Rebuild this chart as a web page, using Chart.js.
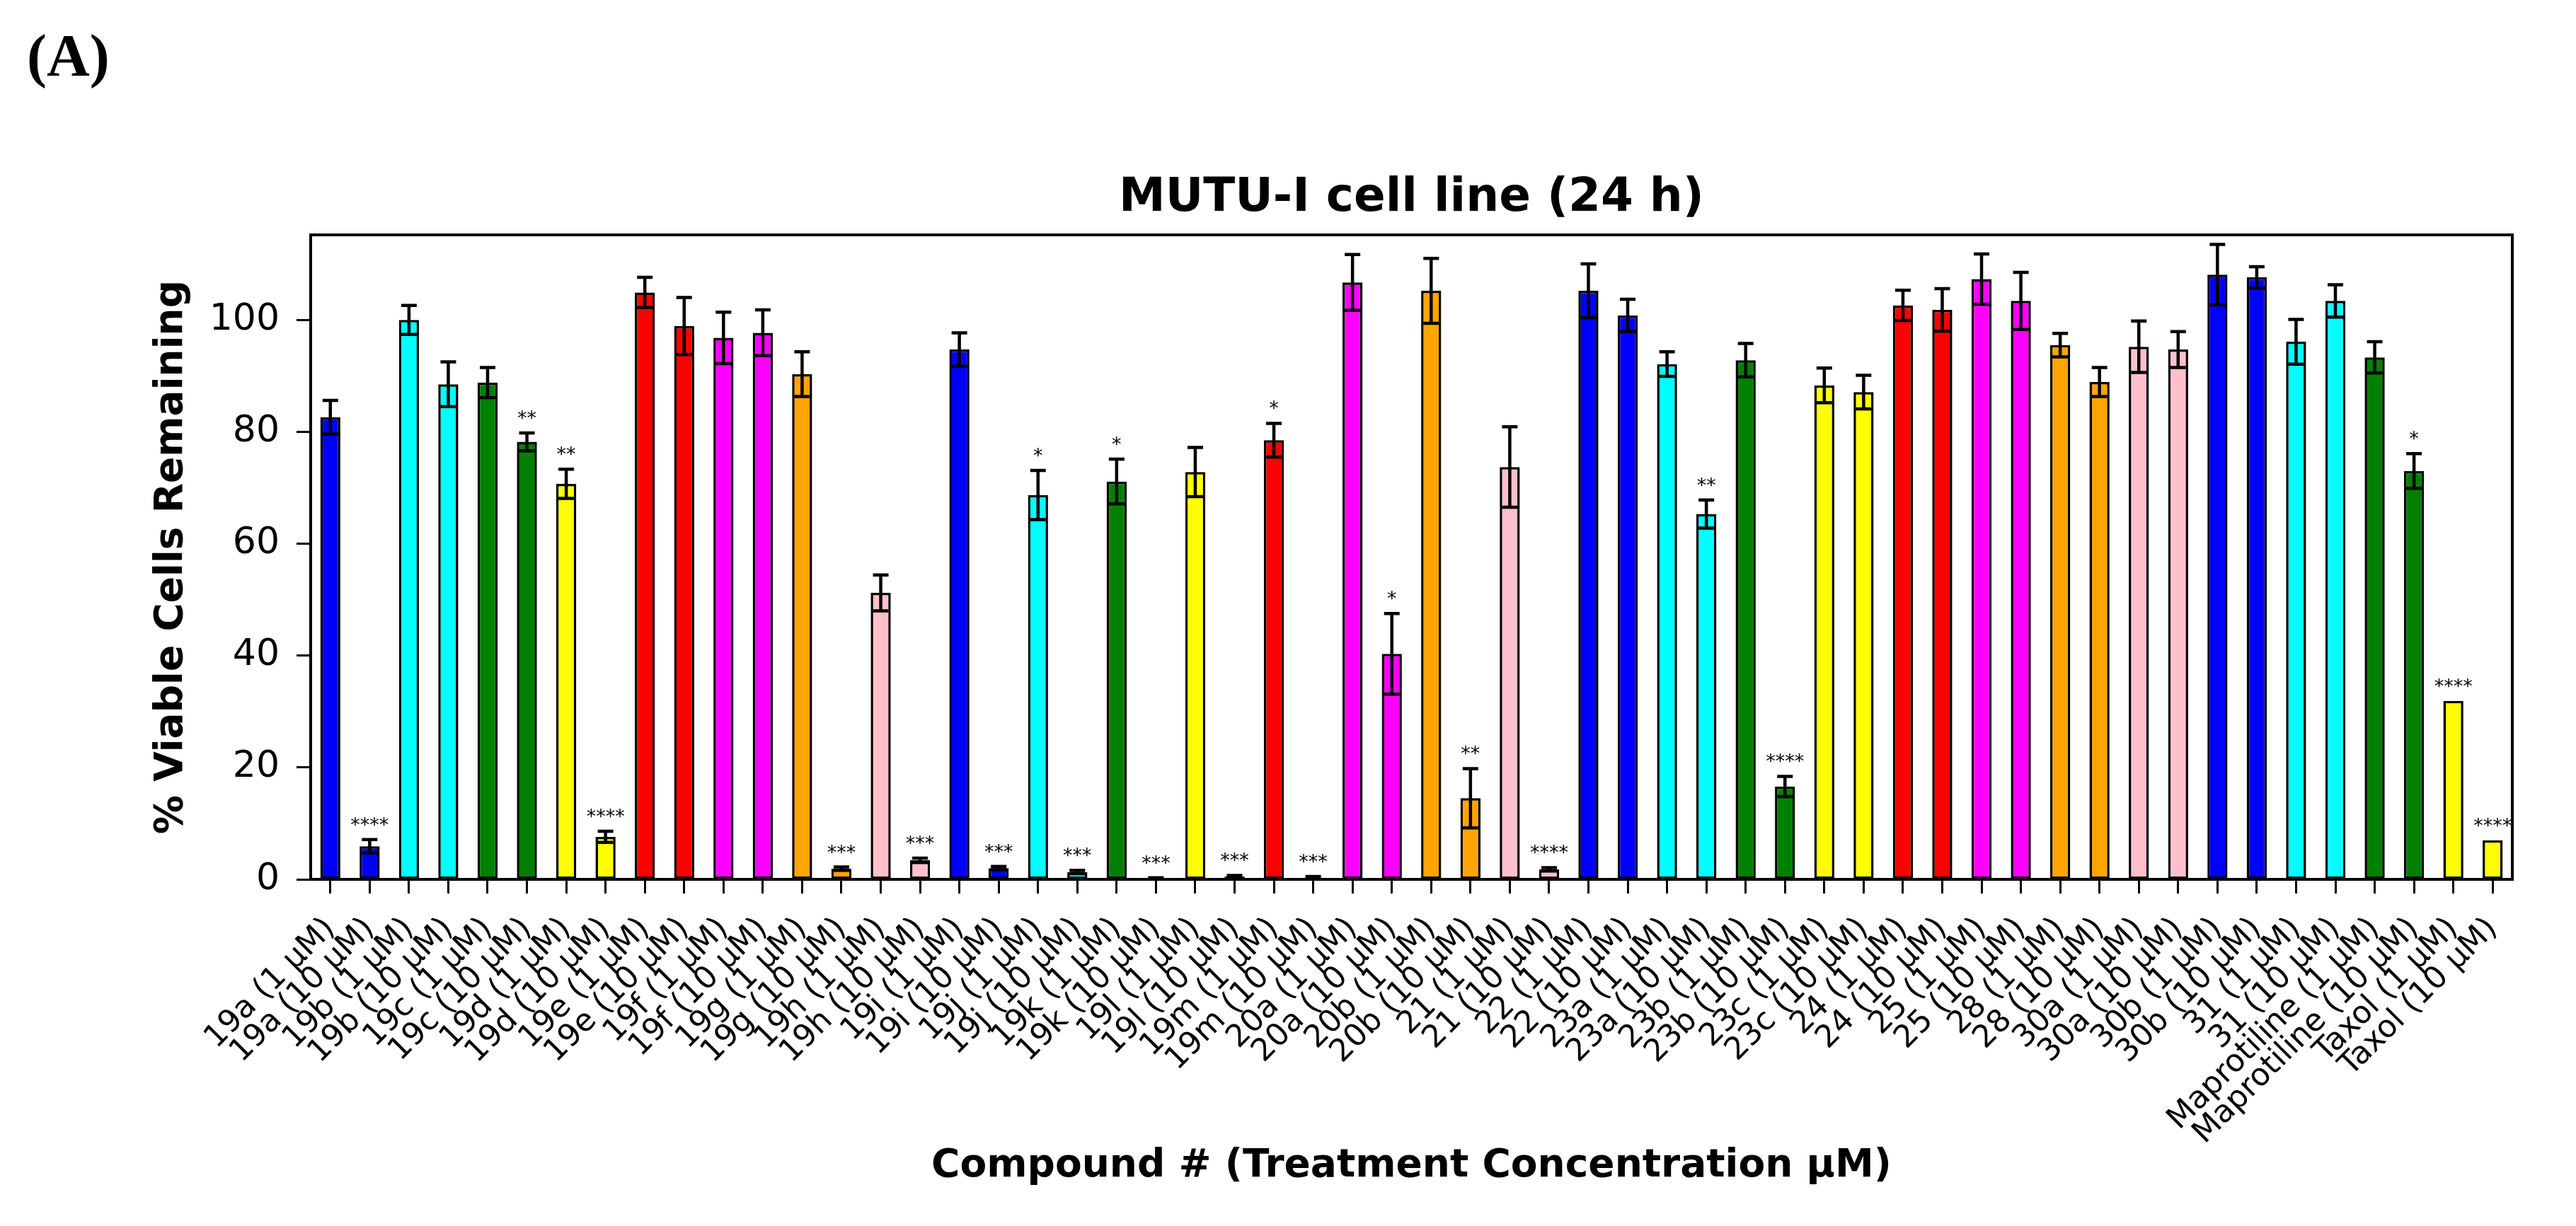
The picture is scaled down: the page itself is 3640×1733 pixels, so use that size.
<!DOCTYPE html>
<html>
<head>
<meta charset="utf-8">
<title>MUTU-I cell line (24 h)</title>
<script src="https://cdn.jsdelivr.net/npm/chart.js@4.4.0/dist/chart.umd.min.js"></script>
<style>
  html, body { margin: 0; padding: 0; background: #fff; overflow: hidden; }
  canvas { display: block; }
</style>
</head>
<body>
<canvas id="viabilityChart" width="3640" height="1733"></canvas>
<script>
// compound / concentration labels, one per bar
const compoundLabels = [
  '19a (1 μM)', '19a (10 μM)', '19b (1 μM)', '19b (10 μM)',
  '19c (1 μM)', '19c (10 μM)', '19d (1 μM)', '19d (10 μM)',
  '19e (1 μM)', '19e (10 μM)', '19f (1 μM)', '19f (10 μM)',
  '19g (1 μM)', '19g (10 μM)', '19h (1 μM)', '19h (10 μM)',
  '19i (1 μM)', '19i (10 μM)', '19j (1 μM)', '19j (10 μM)',
  '19k (1 μM)', '19k (10 μM)', '19l (1 μM)', '19l (10 μM)',
  '19m (1 μM)', '19m (10 μM)', '20a (1 μM)', '20a (10 μM)',
  '20b (1 μM)', '20b (10 μM)', '21 (1 μM)', '21 (10 μM)',
  '22 (1 μM)', '22 (10 μM)', '23a (1 μM)', '23a (10 μM)',
  '23b (1 μM)', '23b (10 μM)', '23c (1 μM)', '23c (10 μM)',
  '24 (1 μM)', '24 (10 μM)', '25 (1 μM)', '25 (10 μM)',
  '28 (1 μM)', '28 (10 μM)', '30a (1 μM)', '30a (10 μM)',
  '30b (1 μM)', '30b (10 μM)', '31 (1 μM)', '31 (10 μM)',
  'Maprotiline (1 μM)', 'Maprotiline (10 μM)', 'Taxol (1 μM)', 'Taxol (10 μM)'
];

// % viable cells remaining (mean)
const viability = [
  82.6, 5.9, 100.0, 88.5, 88.8, 78.2, 70.7, 7.6,
  104.9, 98.9, 96.8, 97.7, 90.3, 1.9, 51.2, 3.4,
  94.7, 2.0, 68.7, 1.3, 71.1, 0.2, 72.8, 0.5,
  78.5, 0.3, 106.7, 40.3, 105.2, 14.5, 73.7, 1.8,
  105.2, 100.8, 92.1, 65.3, 92.8, 16.6, 88.3, 87.1,
  102.6, 101.8, 107.3, 103.4, 95.5, 88.9, 95.2, 94.7,
  108.1, 107.6, 96.1, 103.4, 93.3, 73.0, 31.9, 7.0
];

// error (+/-)
const viabilityErr = [
  3.0, 1.2, 2.6, 4.0, 2.7, 1.6, 2.6, 1.0,
  2.7, 5.1, 4.6, 4.1, 4.0, 0.3, 3.2, 0.4,
  3.0, 0.3, 4.4, 0.3, 4.0, 0.1, 4.4, 0.2,
  3.0, 0.2, 5.0, 7.2, 5.8, 5.3, 7.2, 0.3,
  4.8, 2.9, 2.2, 2.5, 3.0, 1.8, 3.1, 3.0,
  2.7, 3.8, 4.5, 5.1, 2.1, 2.6, 4.6, 3.2,
  5.4, 1.9, 4.0, 2.9, 2.8, 3.1, 0, 0
];

// significance marks
const significance = [
  '', '****', '', '', '', '**', '**', '****',
  '', '', '', '', '', '***', '', '***',
  '', '***', '*', '***', '*', '***', '', '***',
  '*', '***', '', '*', '', '**', '', '****',
  '', '', '', '**', '', '****', '', '',
  '', '', '', '', '', '', '', '',
  '', '', '', '', '', '*', '****', '****'
];

const yTicks = [0, 20, 40, 60, 80, 100];

// one colour per compound (each compound has a 1 and a 10 uM bar)
const palette = ['#0000ff', '#00ffff', '#008000', '#ffff00', '#ff0000', '#ff00ff', '#ffa500', '#ffc0cb'];

const FONT = '"DejaVu Sans", sans-serif';

// error bars + asterisks
const errorBarPlugin = {
  id: 'errorBars',
  afterDatasetsDraw(chart) {
    const { ctx } = chart;
    const yScale = chart.scales.y;
    const meta = chart.getDatasetMeta(0);
    ctx.save();
    ctx.strokeStyle = '#000';
    ctx.lineWidth = 4.5;
    meta.data.forEach((bar, i) => {
      const err = viabilityErr[i];
      if (!err) return;
      const x = bar.x;
      const top = yScale.getPixelForValue(viability[i] + err);
      const bot = yScale.getPixelForValue(viability[i] - err);
      ctx.beginPath();
      ctx.moveTo(x, top); ctx.lineTo(x, bot);
      ctx.moveTo(x - 11, top); ctx.lineTo(x + 11, top);
      ctx.moveTo(x - 11, bot); ctx.lineTo(x + 11, bot);
      ctx.stroke();
    });

    ctx.fillStyle = '#000';
    ctx.font = '27px ' + FONT;
    ctx.textAlign = 'center';
    ctx.textBaseline = 'alphabetic';
    meta.data.forEach((bar, i) => {
      if (!significance[i]) return;
      const top = yScale.getPixelForValue(viability[i] + viabilityErr[i]);
      ctx.fillText(significance[i], bar.x, top - 12);
    });
    ctx.restore();
  }
};

// box around the plot area, title over the plot, panel letter
const framePlugin = {
  id: 'frame',
  afterDraw(chart) {
    const { ctx, chartArea: a } = chart;
    ctx.save();
    ctx.strokeStyle = '#000';
    ctx.lineWidth = 4;
    ctx.strokeRect(a.left, a.top, a.right - a.left, a.bottom - a.top);

    ctx.fillStyle = '#000';
    ctx.textBaseline = 'alphabetic';
    ctx.textAlign = 'center';
    ctx.font = 'bold 66px ' + FONT;
    ctx.fillText('MUTU-I cell line (24 h)', (a.left + a.right) / 2, a.top - 34);

    ctx.textAlign = 'left';
    ctx.font = 'bold 84px "Liberation Serif", serif';
    ctx.fillText('(A)', 38, 107);
    ctx.restore();
  }
};

const ctx = document.getElementById('viabilityChart').getContext('2d');
new Chart(ctx, {
  type: 'bar',
  data: {
    labels: compoundLabels,
    datasets: [{
      label: '% Viable Cells Remaining',
      data: viability,
      backgroundColor: viability.map((_, i) => palette[Math.floor(i / 2) % palette.length]),
      borderColor: '#000',
      borderWidth: 3.5,
      borderSkipped: false,
      barPercentage: 0.51,
      categoryPercentage: 1.0
    }]
  },
  options: {
    responsive: false,
    animation: false,
    devicePixelRatio: 1,
    layout: { padding: { left: 0, right: 90, top: 332, bottom: 0 } },
    plugins: {
      legend: { display: false },
      tooltip: { enabled: false },
      title: { display: false }
    },
    scales: {
      x: {
        offset: true,
        border: { display: false },
        grid: {
          drawOnChartArea: false,
          offset: false,
          tickLength: 20,
          tickWidth: 3,
          tickColor: '#000'
        },
        ticks: {
          autoSkip: false,
          maxRotation: 45,
          minRotation: 45,
          padding: 24,
          color: '#000',
          font: { family: FONT, size: 44 }
        },
        title: {
          display: true,
          text: 'Compound # (Treatment Concentration μM)',
          color: '#000',
          font: { family: FONT, size: 55, weight: 'bold' },
          padding: { top: 0, bottom: 51 }
        },
        afterFit(scale) { scale.height = 490; }
      },
      y: {
        min: 0,
        max: 115.2,
        border: { display: false },
        afterBuildTicks(scale) { scale.ticks = yTicks.map(v => ({ value: v })); },
        grid: {
          drawOnChartArea: false,
          tickLength: 20,
          tickWidth: 3,
          tickColor: '#000'
        },
        ticks: {
          padding: 24,
          color: '#000',
          font: { family: FONT, size: 52 }
        },
        title: {
          display: true,
          text: '% Viable Cells Remaining',
          color: '#000',
          font: { family: FONT, size: 55, weight: 'bold' },
          padding: { top: 210, bottom: 0 }
        },
        afterFit(scale) { scale.width = 439; }
      }
    }
  },
  plugins: [errorBarPlugin, framePlugin]
});
</script>
</body>
</html>
